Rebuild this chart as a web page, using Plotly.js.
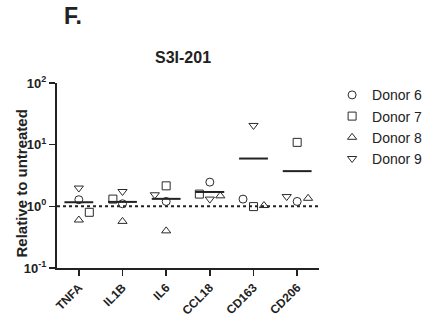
<!DOCTYPE html>
<html><head><meta charset="utf-8">
<script src="https://cdn.plot.ly/plotly-3.0.1.min.js"></script>
<style>html,body{margin:0;padding:0;background:#fff}#c{width:440px;height:321px}</style>
</head><body><div id="c"></div>
<script>
const genes = ["TNFA","IL1B","IL6","CCL18","CD163","CD206"];
const donors = ["Donor 6","Donor 7","Donor 8","Donor 9"];
const donor6 = [1.28, 1.10, 1.20, 2.47, 1.31, 1.20];
const donor7 = [0.80, 1.31, 2.15, 1.58, 0.99, 10.9];
const donor8 = [0.60, 0.57, 0.40, 1.48, 1.03, 1.35];
const donor9 = [1.98, 1.74, 1.54, 1.31, 20.5, 1.44];
// horizontal scatter offsets (category units) as drawn by the original software
const jitter6 = [0, 0, 0, 0, -0.24, 0];
const jitter7 = [0.24, -0.22, 0, -0.24, 0, 0];
const jitter8 = [0, 0, 0, 0.24, 0.24, 0.25];
const jitter9 = [0, 0, -0.26, 0, 0, -0.24];

const series = [donor6, donor7, donor8, donor9];
const jitters = [jitter6, jitter7, jitter8, jitter9];
const symbols = ["circle-open","square-open","triangle-up-open","triangle-down-open"];
const ink = "#2a2a2a";
const FAM = "Liberation Sans, Arial, sans-serif";
const boldFont = {family:FAM, weight:"bold", color:"#222"};

const traces = series.map((vals, d) => ({
  type:"scatter", mode:"markers", name: donors[d],
  x: vals.map((v,i)=> i + jitters[d][i]), y: vals,
  marker:{symbol:symbols[d], size:8, color:ink, line:{width:1, color:ink}},
  cliponaxis:false
}));

// mean lines
const mx = [], my = [];
genes.forEach((g,i)=>{
  const m = series.reduce((s,a)=>s+a[i],0)/series.length;
  mx.push(i-0.33, i+0.33, null); my.push(m, m, null);
});
traces.push({type:"scatter", mode:"lines", x:mx, y:my, showlegend:false, hoverinfo:"skip",
  line:{color:"#222", width:2}});

const layout = {
  width:440, height:321,
  margin:{l:57, r:110, t:83, b:53},
  paper_bgcolor:"#fff", plot_bgcolor:"#fff",
  showlegend:true,
  legend:{x:1.05, y:1.02, xanchor:"left", yanchor:"top", tracegroupgap:0,
    font:{family:FAM, size:14, color:"#222"}, itemwidth:30},
  title:{text:"S3I-201", x:0.416, xanchor:"center", y:1-57/321, yref:"container", yanchor:"middle",
    font:Object.assign({size:16}, boldFont)},
  xaxis:{type:"linear", range:[-0.5,5.5], tickvals:genes.map((g,i)=>i), ticktext:genes,
    tickangle:-45, showgrid:false, zeroline:false, showline:true, linecolor:"#222", linewidth:2,
    ticks:"outside", ticklen:6, tickwidth:1.5, tickcolor:"#222",
    tickfont:Object.assign({size:12}, boldFont)},
  yaxis:{type:"log", range:[-1,2], tickvals:[0.1,1,10,100],
    ticktext:["10<sup>-1</sup>","10<sup>0</sup>","10<sup>1</sup>","10<sup>2</sup>"],
    showgrid:false, zeroline:false, showline:true, linecolor:"#222", linewidth:2,
    ticks:"outside", ticklen:6, tickwidth:1.5, tickcolor:"#222",
    tickfont:Object.assign({size:13}, boldFont)},
  shapes:[{type:"line", xref:"paper", x0:0, x1:1, yref:"y", y0:1, y1:1,
    line:{color:"#222", width:2, dash:"dot"}, layer:"below"}],
  annotations:[
    {text:"F.", xref:"paper", yref:"paper", x:(62-57)/273, y:(268-16.5)/185, xanchor:"left", yanchor:"middle",
     showarrow:false, font:Object.assign({size:23}, boldFont)},
    {text:"Relative to untreated", xref:"paper", yref:"paper", x:(19-57)/273, y:(268-184)/185,
     xanchor:"center", yanchor:"middle", textangle:-90, showarrow:false,
     font:Object.assign({size:15}, boldFont)}
  ]
};
Plotly.newPlot("c", traces, layout, {staticPlot:true, displayModeBar:false});
</script></body></html>
